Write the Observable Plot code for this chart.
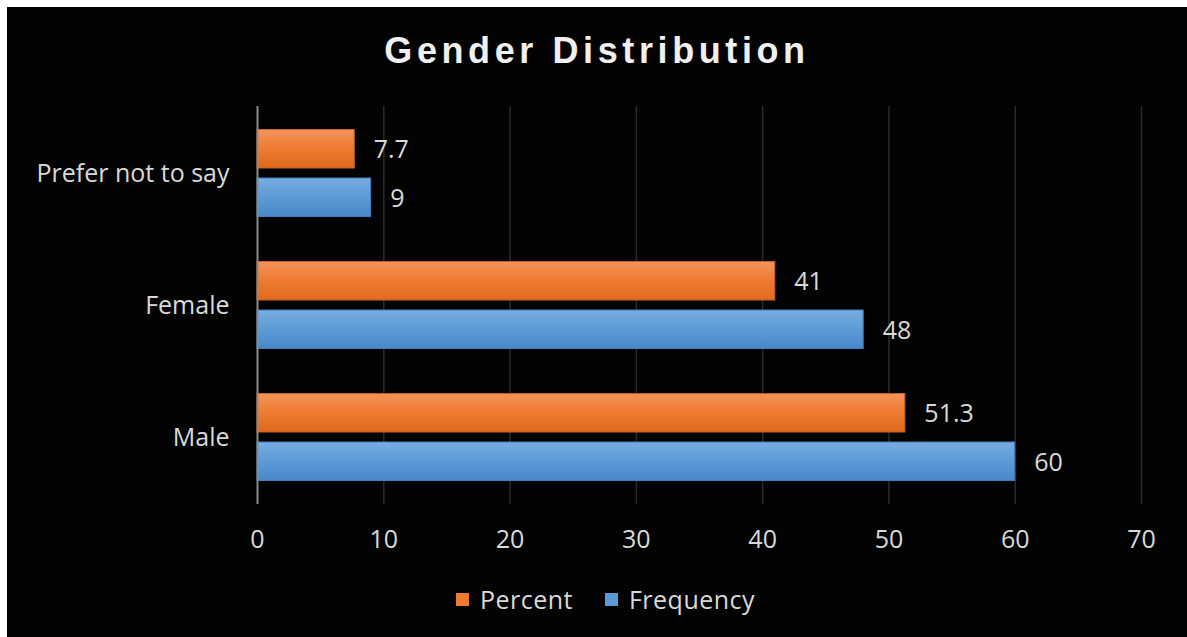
<!DOCTYPE html>
<html>
<head>
<meta charset="utf-8">
<script src="https://cdn.jsdelivr.net/npm/d3@7"></script>
<script src="https://cdn.jsdelivr.net/npm/@observablehq/plot@0.6"></script>
<style>
  html, body { margin: 0; padding: 0; background: #ffffff; width: 1187px; height: 637px; overflow: hidden; }
  #panel { position: absolute; left: 7px; top: 7px; right: 0; bottom: 0; background: #030303; }
  #title { position: absolute; left: 7px; right: 0; top: 30px; text-align: center;
           font-family: "Liberation Sans", Arial, sans-serif; font-weight: bold; font-size: 36px;
           letter-spacing: 4.6px; color: #f0f0f0; }
  #chart { position: absolute; left: 0; top: 90px; }
  #legend { position: absolute; left: 0; right: 0; top: 582px; display: flex; justify-content: center;
            padding-left: 24px; font-family: "Open Sans", sans-serif; font-size: 25px;
            letter-spacing: 0.5px; color: #d9d9d9; }
  .item { display: flex; align-items: center; margin: 0 16px; }
  .swatch { width: 13px; height: 13px; margin-right: 11px; }
</style>
</head>
<body>
<div id="panel"></div>
<div id="title">Gender Distribution</div>
<div id="chart"></div>
<div id="legend"></div>
<script>
// Survey responses by gender
const categories = ["Prefer not to say", "Female", "Male"];
const series = ["Percent", "Frequency"];
const percentValues = [7.7, 41, 51.3];
const frequencyValues = [9, 48, 60];
const xTicks = [0, 10, 20, 30, 40, 50, 60, 70];

const seriesColors = { Percent: "#ee7b30", Frequency: "#5b9bd5" };
const seriesStroke = { Percent: "#c9601a", Frequency: "#3f7fbf" };
const seriesFill = { Percent: "url(#gradPercent)", Frequency: "url(#gradFrequency)" };

const rows = [];
categories.forEach((c, i) => {
  rows.push({ category: c, series: "Percent", value: percentValues[i] });
  rows.push({ category: c, series: "Frequency", value: frequencyValues[i] });
});

const labelColor = "#d9d9d9";
const font = "'Open Sans', sans-serif";

const bars = s => {
  const data = rows.filter(d => d.series === s);
  const top = s === "Percent";
  return [
    Plot.barX(data, {
      x: "value", y: "category",
      fill: seriesFill[s], stroke: seriesStroke[s], strokeWidth: 1,
      insetTop: top ? 22.5 : 71, insetBottom: top ? 71 : 22.5
    }),
    Plot.text(data, {
      x: "value", y: "category", text: d => String(d.value),
      dx: 19, dy: top ? -23.5 : 25, textAnchor: "start",
      fill: labelColor, fontSize: 25, fontFamily: font,
      style: "letter-spacing: 1px"
    })
  ];
};

const chart = Plot.plot({
  width: 1187,
  height: 480,
  marginLeft: 257,
  marginRight: 46,
  marginTop: 16,
  marginBottom: 66,
  style: { background: "transparent", color: labelColor, fontFamily: font },
  x: { domain: [0, 70], ticks: xTicks },
  y: { domain: categories, padding: 0 },
  marks: [
    Plot.gridX(xTicks.slice(1), { stroke: "#2b2b2b", strokeOpacity: 1, strokeWidth: 1.5 }),
    ...bars("Percent"),
    ...bars("Frequency"),
    Plot.ruleX([0], { stroke: "#8a8a8a", strokeWidth: 2 }),
    Plot.axisX(xTicks, { tickSize: 0, tickPadding: 26, fontSize: 25, fill: labelColor, label: null, fontFamily: font }),
    Plot.axisY({ tickSize: 0, tickPadding: 28, fontSize: 25, fill: labelColor, label: null, fontFamily: font })
  ]
});

// Slightly open letter spacing on all axis text
d3.select(chart).selectAll("g[aria-label$='axis'] text").style("letter-spacing", "0.6px");

// Vertical gradients for the bar fills
const defs = d3.select(chart).insert("defs", ":first-child");
const gradStops = {
  gradPercent: ["#f4935c", "#ee7b30", "#e06a1c"],
  gradFrequency: ["#78ade2", "#5b9bd5", "#4888cb"]
};
Object.entries(gradStops).forEach(([id, stops]) => {
  const g = defs.append("linearGradient").attr("id", id)
    .attr("x1", 0).attr("y1", 0).attr("x2", 0).attr("y2", 1);
  stops.forEach((c, i) => g.append("stop").attr("offset", i / (stops.length - 1)).attr("stop-color", c));
});

document.getElementById("chart").append(chart);

// Legend
const legend = d3.select("#legend");
series.forEach(s => {
  const item = legend.append("div").attr("class", "item");
  item.append("div").attr("class", "swatch").style("background", seriesColors[s]);
  item.append("span").text(s);
});
</script>
</body>
</html>
